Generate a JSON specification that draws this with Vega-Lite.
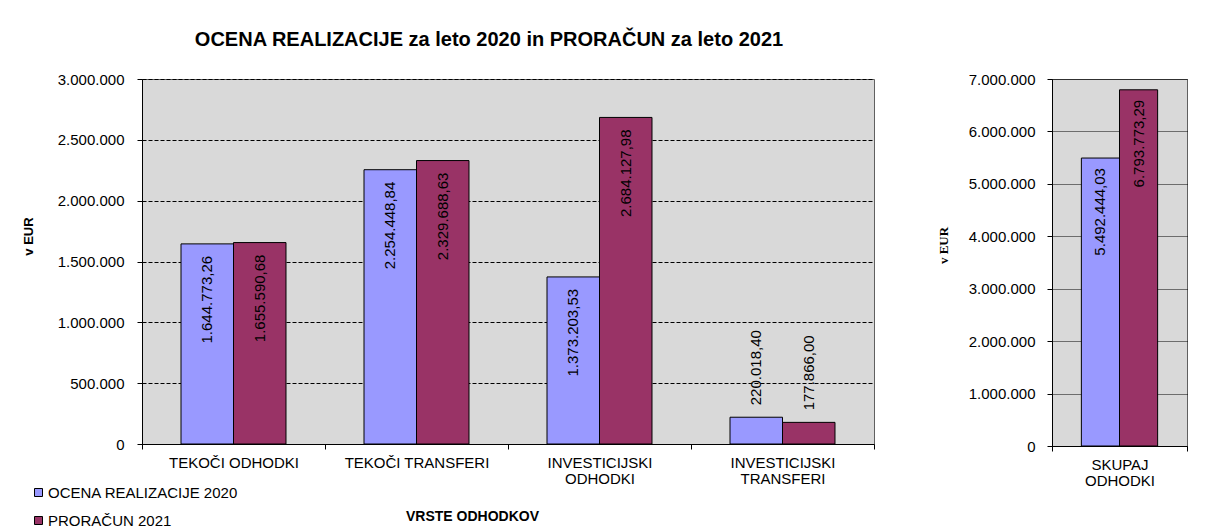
{
  "$schema": "https://vega.github.io/schema/vega-lite/v6.json",
  "padding": {"left": 21, "top": 29, "right": 0, "bottom": 0},
  "background": "white",
  "config": {
    "locale": {"number": {"decimal": ",", "thousands": ".", "grouping": [3], "currency": ["", " €"]}},
    "font": "Liberation Sans",
    "view": {"fill": "#D9D9D9", "stroke": "#606060", "strokeWidth": 1},
    "axis": {"labelFont": "Liberation Sans", "labelFontSize": 15, "labelColor": "black", "domainColor": "black", "tickColor": "black", "tickSize": 5, "titleFont": "Liberation Sans", "titleColor": "black"},
    "concat": {"spacing": 178}
  },
  "data": {"values": [
    {"panel": "left", "category": "TEKOČI ODHODKI", "series": "OCENA REALIZACIJE 2020", "value": 1644773.26},
    {"panel": "left", "category": "TEKOČI ODHODKI", "series": "PRORAČUN 2021", "value": 1655590.68},
    {"panel": "left", "category": "TEKOČI TRANSFERI", "series": "OCENA REALIZACIJE 2020", "value": 2254448.84},
    {"panel": "left", "category": "TEKOČI TRANSFERI", "series": "PRORAČUN 2021", "value": 2329688.63},
    {"panel": "left", "category": "INVESTICIJSKI ODHODKI", "series": "OCENA REALIZACIJE 2020", "value": 1373203.53},
    {"panel": "left", "category": "INVESTICIJSKI ODHODKI", "series": "PRORAČUN 2021", "value": 2684127.98},
    {"panel": "left", "category": "INVESTICIJSKI TRANSFERI", "series": "OCENA REALIZACIJE 2020", "value": 220018.40},
    {"panel": "left", "category": "INVESTICIJSKI TRANSFERI", "series": "PRORAČUN 2021", "value": 177866.00},
    {"panel": "right", "category": "SKUPAJ ODHODKI", "series": "OCENA REALIZACIJE 2020", "value": 5492444.03},
    {"panel": "right", "category": "SKUPAJ ODHODKI", "series": "PRORAČUN 2021", "value": 6793773.29}
  ]},
  "bounds": "flush",
  "resolve": {"scale": {"color": "independent", "xOffset": "independent"}, "legend": {"color": "independent"}},
  "hconcat": [
    {
      "width": 732,
      "height": 365,
      "title": {"text": "OCENA REALIZACIJE za leto 2020 in PRORAČUN za leto 2021", "fontSize": 20, "fontWeight": "bold", "font": "Liberation Sans", "color": "black", "frame": "group", "anchor": "middle", "dx": -19, "offset": 6, "baseline": "alphabetic"},
      "transform": [{"filter": "datum.panel == 'left'"}],
      "encoding": {
        "x": {"field": "category", "type": "nominal", "sort": null,
          "scale": {"paddingInner": 0, "paddingOuter": 0},
          "axis": {"title": "VRSTE ODHODKOV", "labelAngle": 0, "tickBand": "extent", "labelPadding": 6,
            "labelExpr": "length(datum.label) > 18 ? split(datum.label, ' ') : datum.label",
            "labelLineHeight": 16, "titleFontSize": 14, "titleFontWeight": "bold",
            "titleX": 330, "titleY": 72, "titleBaseline": "middle", "titleAlign": "center"}},
        "xOffset": {"field": "series", "type": "nominal", "sort": null, "scale": {"paddingInner": 0, "paddingOuter": 0.743}},
        "y": {"field": "value", "type": "quantitative",
          "scale": {"domain": [0, 3000000], "nice": false},
          "axis": {"values": [0, 500000, 1000000, 1500000, 2000000, 2500000, 3000000], "format": ",.0f",
            "title": "v EUR", "titleFontSize": 13, "titleFontWeight": "bold", "titleX": -114, "titleY": 157,
            "titleAlign": "center", "titleBaseline": "middle", "titleAngle": 270, "labelPadding": 13,
            "gridDash": [4, 2], "gridColor": "black", "gridOpacity": 1}}
      },
      "layer": [
        {"mark": {"type": "bar", "stroke": "black", "strokeWidth": 1},
          "encoding": {"color": {"field": "series", "type": "nominal", "sort": null,
            "scale": {"range": ["#9999FF", "#993366"]},
            "legend": {"orient": "none", "legendX": -111, "legendY": 406, "direction": "vertical", "title": null,
              "symbolType": "square", "symbolSize": 64, "symbolStrokeColor": "black", "symbolStrokeWidth": 1,
              "labelFontSize": 15, "labelFont": "Liberation Sans", "labelColor": "black", "labelLimit": 400, "rowPadding": 12, "labelOffset": 2}}}},
        {"transform": [{"filter": "datum.value > 500000"}],
          "mark": {"type": "text", "angle": 270, "align": "right", "baseline": "middle", "dx": -12, "fontSize": 15, "font": "Liberation Sans", "color": "black"},
          "encoding": {"text": {"field": "value", "type": "quantitative", "format": ",.2f"}}},
        {"transform": [{"filter": "datum.value <= 500000"}],
          "mark": {"type": "text", "angle": 270, "align": "left", "baseline": "middle", "dx": 12, "fontSize": 15, "font": "Liberation Sans", "color": "black"},
          "encoding": {"text": {"field": "value", "type": "quantitative", "format": ",.2f"}}}
      ]
    },
    {
      "width": 135,
      "height": 367,
      "transform": [{"filter": "datum.panel == 'right'"}],
      "encoding": {
        "x": {"field": "category", "type": "nominal", "sort": null,
          "scale": {"paddingInner": 0, "paddingOuter": 0},
          "axis": {"title": null, "labelAngle": 0, "tickBand": "extent", "labelPadding": 6,
            "labelExpr": "split(datum.label, ' ')", "labelLineHeight": 16}},
        "xOffset": {"field": "series", "type": "nominal", "sort": null, "scale": {"paddingInner": 0, "paddingOuter": 0.77}},
        "y": {"field": "value", "type": "quantitative",
          "scale": {"domain": [0, 7000000], "nice": false},
          "axis": {"values": [0, 1000000, 2000000, 3000000, 4000000, 5000000, 6000000, 7000000], "format": ",.0f",
            "title": "v EUR", "titleFont": "Liberation Serif", "titleFontSize": 13, "titleFontWeight": "bold",
            "titleX": -109, "titleY": 166, "titleAlign": "center", "titleBaseline": "middle", "titleAngle": 270,
            "labelPadding": 12, "gridDash": [1, 1], "gridColor": "black", "gridOpacity": 1}}
      },
      "layer": [
        {"mark": {"type": "bar", "stroke": "black", "strokeWidth": 1},
          "encoding": {"color": {"field": "series", "type": "nominal", "sort": null,
            "scale": {"range": ["#9999FF", "#993366"]}, "legend": null}}},
        {"mark": {"type": "text", "angle": 270, "align": "right", "baseline": "middle", "dx": -10, "fontSize": 15, "font": "Liberation Sans", "color": "black"},
          "encoding": {"text": {"field": "value", "type": "quantitative", "format": ",.2f"}}}
      ]
    }
  ]
}
